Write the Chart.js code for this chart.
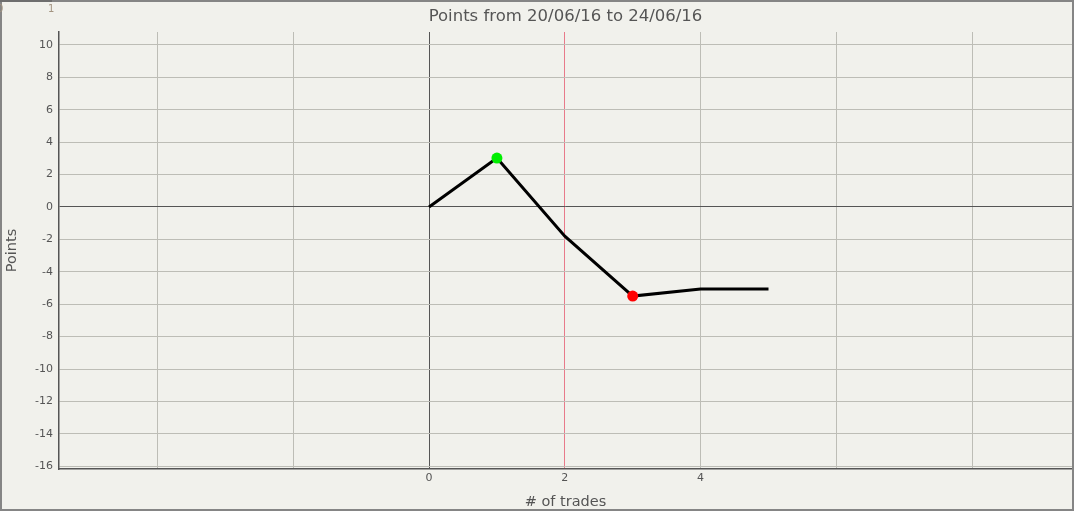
<!DOCTYPE html>
<html>
<head>
<meta charset="utf-8">
<title>Points chart</title>
<script src="https://cdn.jsdelivr.net/npm/chart.js@4.4.1/dist/chart.umd.min.js"></script>
<style>
  html, body { margin: 0; padding: 0; background: #f1f1ec; }
  canvas { display: block; }
</style>
</head>
<body>
<canvas id="chart" width="1074" height="511"></canvas>
<script>
// data
const trades = [0, 1, 2, 3, 4, 5];
const points = [0, 3.02, -1.8, -5.5, -5.06, -5.06];
const yTicks = [10, 8, 6, 4, 2, 0, -2, -4, -6, -8, -10, -12, -14, -16];
const xGridTicks = [-4, -2, 0, 2, 4, 6, 8];
const xLabels = [0, 2, 4];
const titleText = 'Points from 20/06/16 to 24/06/16';

const FONT = '"DejaVu Sans", Verdana, sans-serif';
const maxIdx = points.indexOf(Math.max(...points));
const minIdx = points.indexOf(Math.min(...points));

// title, frame and the little stray axis in the corner
const decor = {
    id: 'decor',
    beforeDraw(chart) {
        const ctx = chart.ctx;
        ctx.save();
        ctx.fillStyle = '#f1f1ec';
        ctx.fillRect(0, 0, chart.width, chart.height);
        ctx.restore();
    },
    afterDraw(chart) {
        const ctx = chart.ctx, a = chart.chartArea;
        ctx.save();
        ctx.fillStyle = '#555';
        ctx.font = '16.5px ' + FONT;
        ctx.textAlign = 'center';
        ctx.textBaseline = 'middle';
        ctx.fillText(titleText, (a.left + a.right) / 2, 17);
        ctx.strokeStyle = '#858585';
        ctx.lineWidth = 2;
        ctx.strokeRect(1, 1, chart.width - 2, chart.height - 2);
        ctx.strokeStyle = '#6e6e6e';
        ctx.beginPath(); ctx.moveTo(0, 1); ctx.lineTo(52, 1); ctx.stroke();
        ctx.fillStyle = '#a39480';
        ctx.font = '10px ' + FONT;
        ctx.textAlign = 'left';
        ctx.fillText('0', -3, 9);
        ctx.fillText('1', 48, 9);
        ctx.restore();
    }
};

new Chart(document.getElementById('chart'), {
    type: 'scatter',
    data: {
        datasets: [{
            data: trades.map((t, i) => ({ x: t, y: points[i] })),
            showLine: true,
            borderColor: '#000',
            borderWidth: 3,
            pointRadius: ctx => (ctx.dataIndex === maxIdx || ctx.dataIndex === minIdx) ? 5.5 : 0,
            pointHoverRadius: 0,
            pointBackgroundColor: ctx => ctx.dataIndex === maxIdx ? '#00ee00' : '#ff0000',
            pointBorderWidth: 0
        }]
    },
    options: {
        responsive: false,
        animation: false,
        layout: { padding: { top: 32, right: 2, left: 0, bottom: 0 } },
        plugins: { legend: { display: false }, tooltip: { enabled: false } },
        scales: {
            x: {
                type: 'linear',
                min: -5.45,
                max: 9.47,
                afterBuildTicks: s => { s.ticks = xGridTicks.map(v => ({ value: v })); },
                afterFit: s => { s.height = 42; },
                grid: {
                    drawTicks: false,
                    color: c => c.tick && c.tick.value === 0 ? '#555' : (c.tick && c.tick.value === 2 ? '#e87a8a' : '#bdbdb6'),
                    lineWidth: 1
                },
                border: { color: '#555', width: 1.5 },
                ticks: {
                    padding: 3,
                    autoSkip: false,
                    maxRotation: 0,
                    color: '#555',
                    font: { family: FONT, size: 11 },
                    callback: v => xLabels.includes(v) ? String(v) : ''
                },
                title: {
                    display: true,
                    text: '# of trades',
                    color: '#555',
                    font: { family: FONT, size: 14.5 },
                    padding: { top: 0, bottom: 0 }
                }
            },
            y: {
                min: -16.17,
                max: 10.8,
                afterBuildTicks: s => { s.ticks = yTicks.map(v => ({ value: v })); },
                afterFit: s => { s.width = 59; },
                grid: {
                    drawTicks: false,
                    color: c => c.tick && c.tick.value === 0 ? '#555' : '#bdbdb6',
                    lineWidth: 1
                },
                border: { color: '#555', width: 1.5 },
                ticks: {
                    padding: 6,
                    autoSkip: false,
                    color: '#555',
                    font: { family: FONT, size: 11 }
                },
                title: {
                    display: true,
                    text: 'Points',
                    color: '#555',
                    font: { family: FONT, size: 14.5 },
                    padding: { top: 4, bottom: 0 }
                }
            }
        }
    },
    plugins: [decor]
});
</script>
</body>
</html>
